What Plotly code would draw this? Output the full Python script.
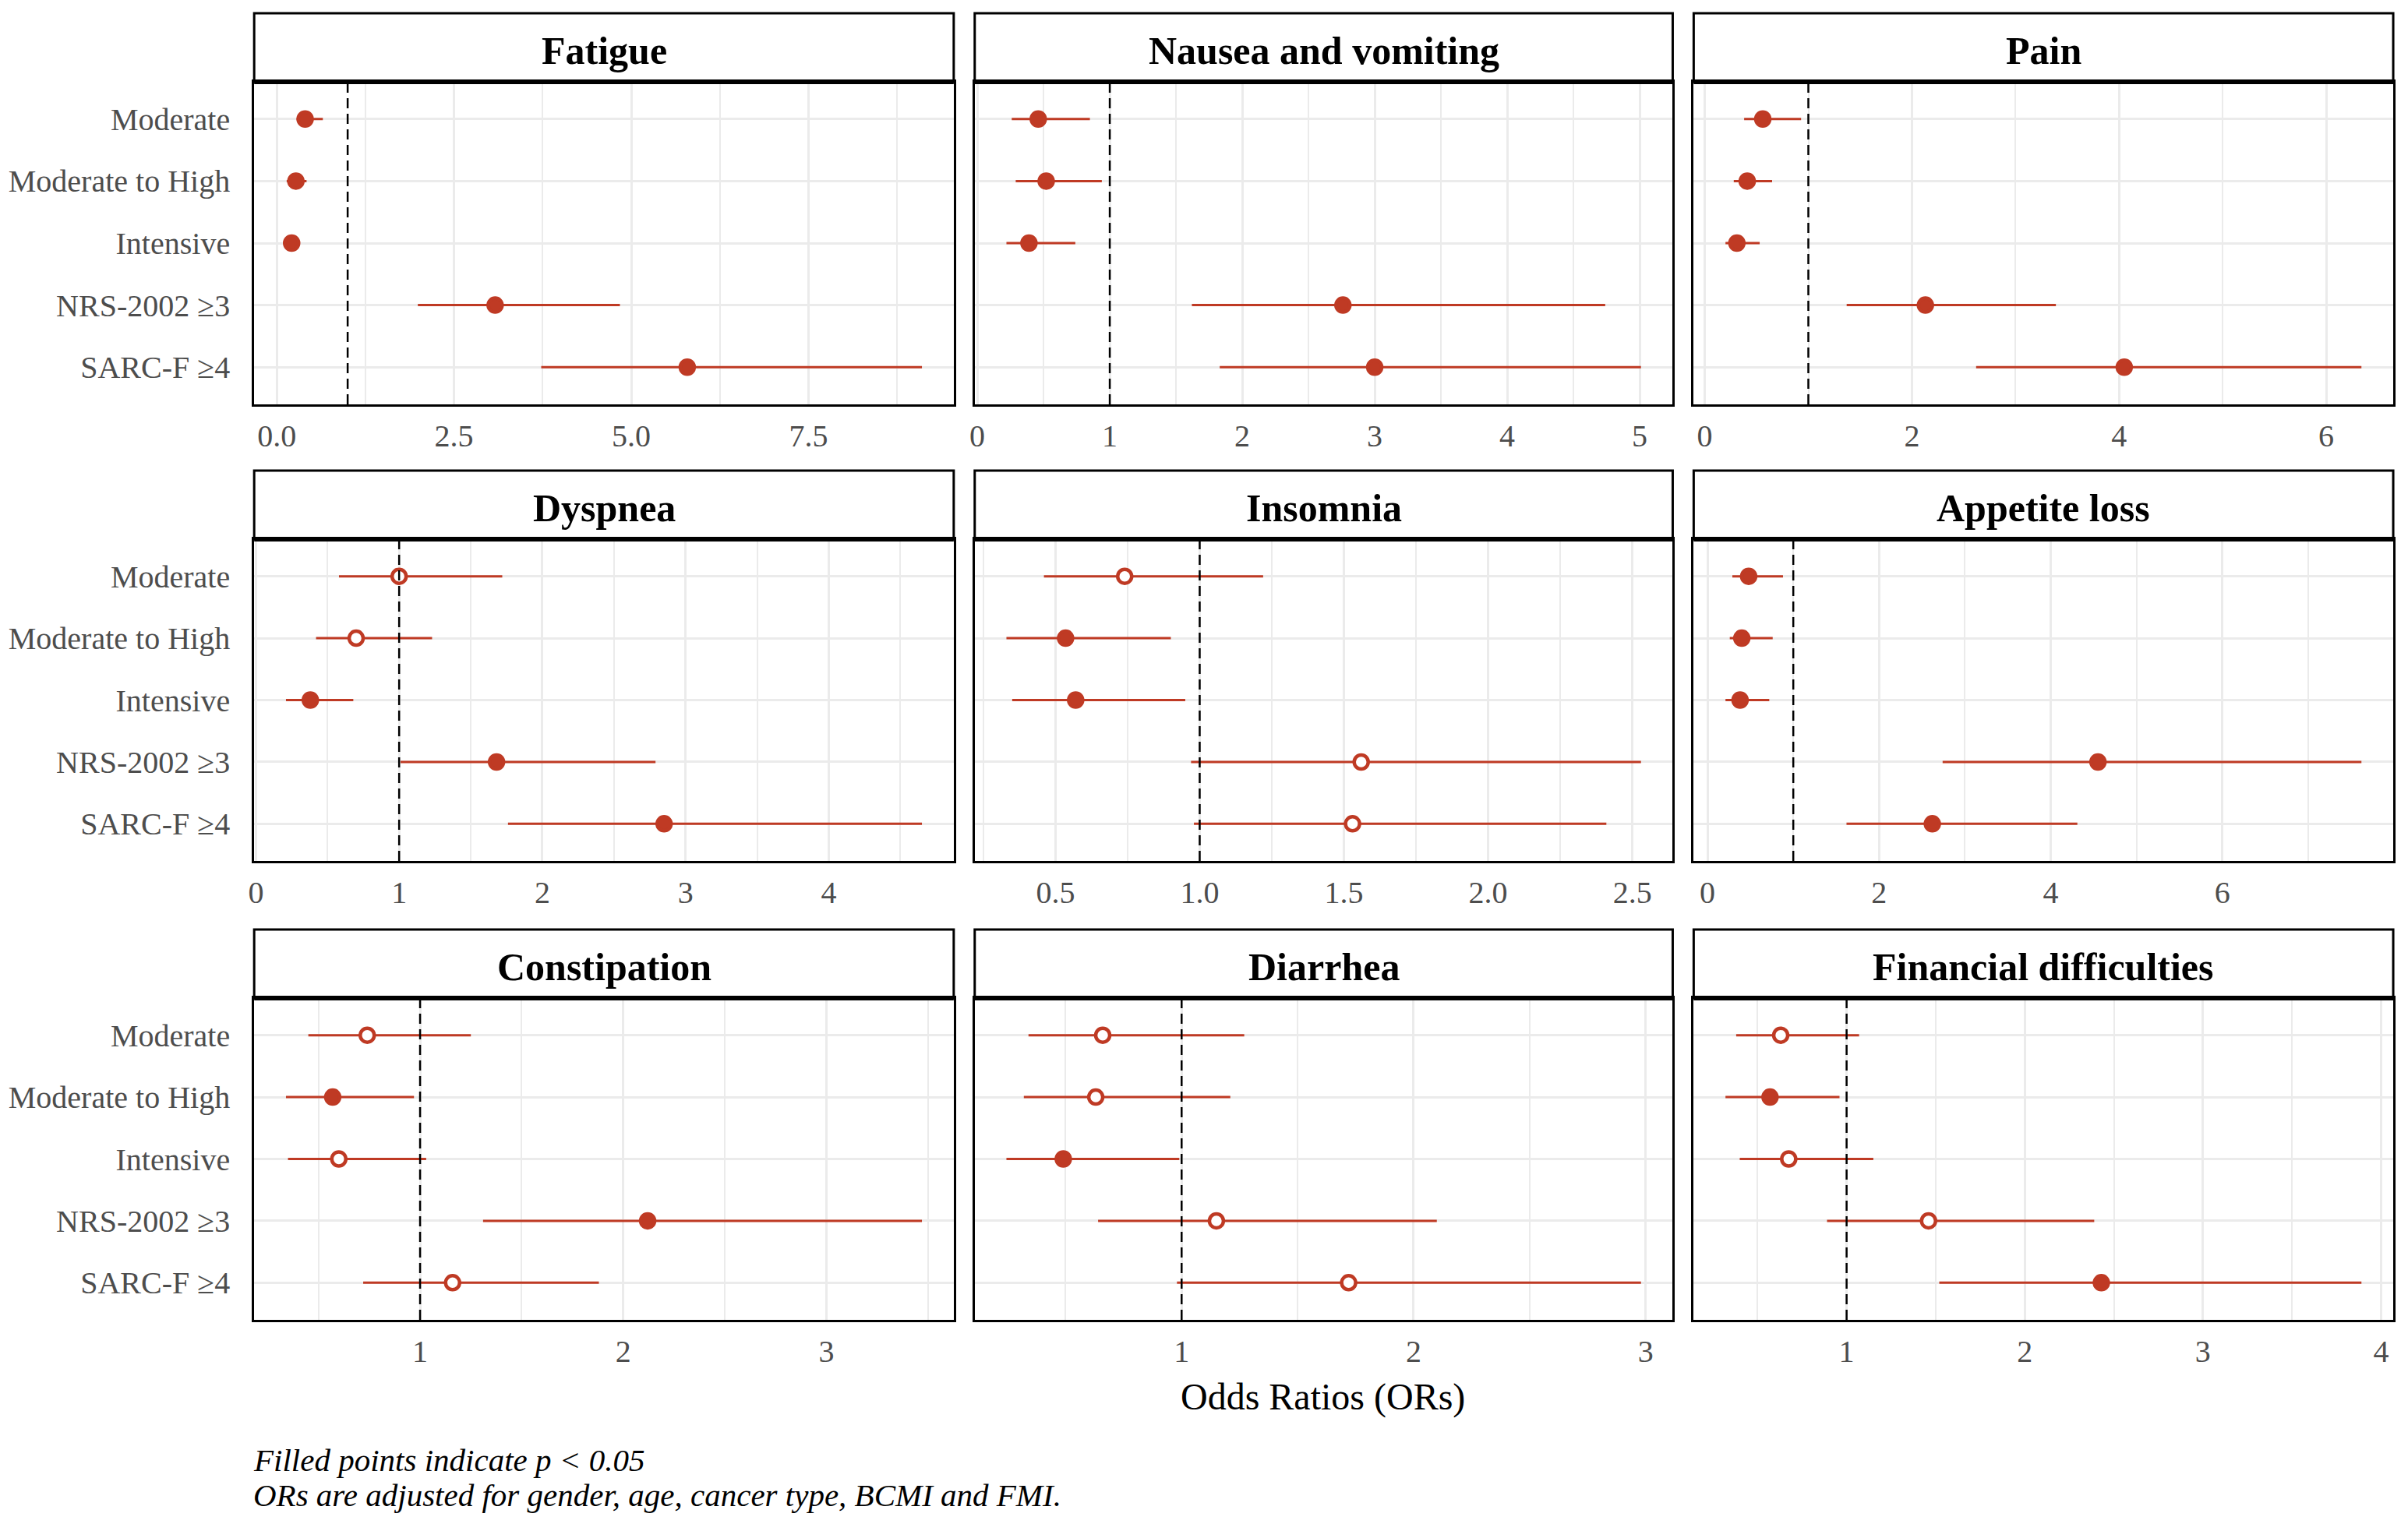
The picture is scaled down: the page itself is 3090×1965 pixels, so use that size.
import plotly.graph_objects as go

# ---------------- data ----------------
categories = ["Moderate", "Moderate to High", "Intensive", "NRS-2002 \u22653", "SARC-F \u22654"]

panel_titles = ["Fatigue", "Nausea and vomiting", "Pain",
                "Dyspnea", "Insomnia", "Appetite loss",
                "Constipation", "Diarrhea", "Financial difficulties"]

fatigue_or = [0.40, 0.27, 0.21, 3.08, 5.79]
fatigue_lo = [0.28, 0.14, 0.13, 1.99, 3.73]
fatigue_hi = [0.65, 0.42, 0.32, 4.84, 9.10]
fatigue_sig = [1, 1, 1, 1, 1]

nausea_or = [0.46, 0.52, 0.39, 2.76, 3.00]
nausea_lo = [0.26, 0.29, 0.22, 1.62, 1.83]
nausea_hi = [0.85, 0.94, 0.74, 4.74, 5.01]
nausea_sig = [1, 1, 1, 1, 1]

pain_or = [0.56, 0.41, 0.31, 2.13, 4.05]
pain_lo = [0.38, 0.28, 0.20, 1.37, 2.62]
pain_hi = [0.93, 0.65, 0.53, 3.39, 6.34]
pain_sig = [1, 1, 1, 1, 1]

dyspnea_or = [1.00, 0.70, 0.38, 1.68, 2.85]
dyspnea_lo = [0.58, 0.42, 0.21, 1.01, 1.76]
dyspnea_hi = [1.72, 1.23, 0.68, 2.79, 4.65]
dyspnea_sig = [0, 0, 1, 1, 1]

insomnia_or = [0.74, 0.535, 0.57, 1.56, 1.53]
insomnia_lo = [0.46, 0.33, 0.35, 0.97, 0.98]
insomnia_hi = [1.22, 0.90, 0.95, 2.53, 2.41]
insomnia_sig = [0, 1, 1, 0, 0]

appetite_or = [0.48, 0.40, 0.38, 4.55, 2.62]
appetite_lo = [0.29, 0.26, 0.21, 2.74, 1.62]
appetite_hi = [0.88, 0.76, 0.72, 7.62, 4.31]
appetite_sig = [1, 1, 1, 1, 1]

constipation_or = [0.74, 0.57, 0.60, 2.12, 1.16]
constipation_lo = [0.45, 0.34, 0.35, 1.31, 0.72]
constipation_hi = [1.25, 0.97, 1.03, 3.47, 1.88]
constipation_sig = [0, 1, 0, 1, 0]

diarrhea_or = [0.66, 0.63, 0.49, 1.15, 1.72]
diarrhea_lo = [0.34, 0.32, 0.245, 0.64, 0.98]
diarrhea_hi = [1.27, 1.21, 0.99, 2.10, 2.98]
diarrhea_sig = [0, 0, 1, 0, 0]

financial_or = [0.63, 0.57, 0.675, 1.46, 2.43]
financial_lo = [0.38, 0.32, 0.40, 0.89, 1.52]
financial_hi = [1.07, 0.96, 1.15, 2.39, 3.89]
financial_sig = [0, 1, 0, 0, 1]

# tick values / labels per panel
fatigue_ticks = [0, 2.5, 5, 7.5]
fatigue_ticklabels = ["0.0", "2.5", "5.0", "7.5"]
fatigue_minor = [1.25, 3.75, 6.25, 8.75]
nausea_ticks = [0, 1, 2, 3, 4, 5]
nausea_ticklabels = ["0", "1", "2", "3", "4", "5"]
nausea_minor = [0.5, 1.5, 2.5, 3.5, 4.5]
pain_ticks = [0, 2, 4, 6]
pain_ticklabels = ["0", "2", "4", "6"]
pain_minor = [1, 3, 5]
dyspnea_ticks = [0, 1, 2, 3, 4]
dyspnea_ticklabels = ["0", "1", "2", "3", "4"]
dyspnea_minor = [0.5, 1.5, 2.5, 3.5, 4.5]
insomnia_ticks = [0.5, 1.0, 1.5, 2.0, 2.5]
insomnia_ticklabels = ["0.5", "1.0", "1.5", "2.0", "2.5"]
insomnia_minor = [0.25, 0.75, 1.25, 1.75, 2.25]
appetite_ticks = [0, 2, 4, 6]
appetite_ticklabels = ["0", "2", "4", "6"]
appetite_minor = [1, 3, 5, 7]
constipation_ticks = [1, 2, 3]
constipation_ticklabels = ["1", "2", "3"]
constipation_minor = [0.5, 1.5, 2.5, 3.5]
diarrhea_ticks = [1, 2, 3]
diarrhea_ticklabels = ["1", "2", "3"]
diarrhea_minor = [0.5, 1.5, 2.5]
financial_ticks = [1, 2, 3, 4]
financial_ticklabels = ["1", "2", "3", "4"]
financial_minor = [0.5, 1.5, 2.5, 3.5]

x_title = "Odds Ratios (ORs)"
note_lines = ["Filled points indicate p < 0.05",
              "ORs are adjusted for gender, age, cancer type, BCMI and FMI."]

# ---------------- assembling ----------------
panels = [
    (fatigue_or, fatigue_lo, fatigue_hi, fatigue_sig, fatigue_ticks, fatigue_ticklabels, fatigue_minor),
    (nausea_or, nausea_lo, nausea_hi, nausea_sig, nausea_ticks, nausea_ticklabels, nausea_minor),
    (pain_or, pain_lo, pain_hi, pain_sig, pain_ticks, pain_ticklabels, pain_minor),
    (dyspnea_or, dyspnea_lo, dyspnea_hi, dyspnea_sig, dyspnea_ticks, dyspnea_ticklabels, dyspnea_minor),
    (insomnia_or, insomnia_lo, insomnia_hi, insomnia_sig, insomnia_ticks, insomnia_ticklabels, insomnia_minor),
    (appetite_or, appetite_lo, appetite_hi, appetite_sig, appetite_ticks, appetite_ticklabels, appetite_minor),
    (constipation_or, constipation_lo, constipation_hi, constipation_sig, constipation_ticks, constipation_ticklabels, constipation_minor),
    (diarrhea_or, diarrhea_lo, diarrhea_hi, diarrhea_sig, diarrhea_ticks, diarrhea_ticklabels, diarrhea_minor),
    (financial_or, financial_lo, financial_hi, financial_sig, financial_ticks, financial_ticklabels, financial_minor),
]

W, H = 3090, 1965
RED = "#BF3A24"
GRID = "#EBEBEB"
TICKCOL = "#4D4D4D"
FONT = "Liberation Serif, Times New Roman, serif"

col_px = [(319, 1219), (1246, 2144), (2171, 3071)]
strip_top = [17, 604, 1193]
strip_bot = [105, 692, 1281]
panel_bot = [519, 1105, 1694]

fig = go.Figure()
shapes = []
annotations = []

for i, (orv, lo, hi, sig, tv, tt, mv) in enumerate(panels):
    r, c = divmod(i, 3)
    n = i + 1
    xa = "x" if n == 1 else f"x{n}"
    ya = "y" if n == 1 else f"y{n}"
    xkey = "xaxis" if n == 1 else f"xaxis{n}"
    ykey = "yaxis" if n == 1 else f"yaxis{n}"

    fills = [RED if s else "white" for s in sig]
    fig.add_trace(go.Scatter(
        x=orv, y=categories, xaxis=xa, yaxis=ya, mode="markers",
        marker=dict(symbol="circle", size=18, color=fills,
                    line=dict(color=RED, width=4.5)),
        error_x=dict(type="data", symmetric=False,
                     array=[h - o for h, o in zip(hi, orv)],
                     arrayminus=[o - l for o, l in zip(orv, lo)],
                     color=RED, thickness=3, width=0),
        showlegend=False, hoverinfo="skip", cliponaxis=False,
    ))

    dmin = min(min(lo), 1.0)
    dmax = max(max(hi), 1.0)
    span = dmax - dmin
    xr = [dmin - 0.05 * span, dmax + 0.05 * span]

    x0, x1 = col_px[c]
    y_top = strip_bot[r]
    y_bot = panel_bot[r]

    fig.layout[xkey] = dict(
        domain=[x0 / W, x1 / W], anchor=ya, range=xr,
        tickmode="array", tickvals=tv, ticktext=tt,
        showgrid=True, gridcolor=GRID, gridwidth=3, zeroline=False,
        minor=dict(tickmode="array", tickvals=mv, showgrid=True,
                   gridcolor=GRID, gridwidth=1.5),
        showline=True, mirror=True, linecolor="black", linewidth=3,
        ticks="", ticklabelstandoff=3,
        tickfont=dict(family=FONT, size=40, color=TICKCOL),
        fixedrange=True,
    )
    fig.layout[ykey] = dict(
        domain=[1 - y_bot / H, 1 - y_top / H], anchor=xa,
        type="category", categoryorder="array", categoryarray=categories,
        range=[4.6, -0.6],
        showgrid=True, gridcolor=GRID, gridwidth=3, zeroline=False,
        showline=True, mirror=True, linecolor="black", linewidth=3,
        ticks="", ticklabelstandoff=20,
        showticklabels=(c == 0),
        tickfont=dict(family=FONT, size=40, color=TICKCOL),
        fixedrange=True,
    )

    # reference line at OR = 1
    shapes.append(dict(type="line", xref=xa, yref=f"{ya} domain",
                       x0=1, x1=1, y0=0, y1=1,
                       line=dict(color="black", width=2.5, dash="13px,7px"),
                       layer="above"))

    # strip box
    shapes.append(dict(type="rect", xref="paper", yref="paper",
                       x0=x0 / W, x1=x1 / W,
                       y0=1 - strip_bot[r] / H, y1=1 - strip_top[r] / H,
                       fillcolor="white", line=dict(color="black", width=3)))
    shapes.append(dict(type="line", xref="paper", yref="paper",
                       x0=x0 / W, x1=x1 / W,
                       y0=1 - strip_bot[r] / H, y1=1 - strip_bot[r] / H,
                       line=dict(color="black", width=6)))
    annotations.append(dict(text=f"<b>{panel_titles[i]}</b>", xref="paper", yref="paper",
                            x=(x0 + x1) / 2 / W,
                            y=1 - ((strip_top[r] + strip_bot[r]) / 2 + 4) / H,
                            xanchor="center", yanchor="middle", showarrow=False,
                            font=dict(family=FONT, size=50, color="black")))

annotations.append(dict(text=x_title, xref="paper", yref="paper",
                        x=1694 / W, y=1 - 1793 / H, xanchor="center", yanchor="middle",
                        showarrow=False, font=dict(family=FONT, size=48, color="black")))
annotations.append(dict(text=f"<i>{note_lines[0]}</i>", xref="paper", yref="paper",
                        x=316 / W, y=1 - 1874 / H, xanchor="left", yanchor="middle",
                        showarrow=False, font=dict(family=FONT, size=41, color="black")))
annotations.append(dict(text=f"<i>{note_lines[1]}</i>", xref="paper", yref="paper",
                        x=316 / W, y=1 - 1919 / H, xanchor="left", yanchor="middle",
                        showarrow=False, font=dict(family=FONT, size=41, color="black")))

fig.update_layout(
    width=W, height=H,
    margin=dict(l=0, r=0, t=0, b=0),
    paper_bgcolor="white", plot_bgcolor="white",
    shapes=shapes, annotations=annotations,
    showlegend=False,
    font=dict(family=FONT, color="black"),
)

fig.write_html("out.html", config={"displayModeBar": False},
               post_script="document.body.style.margin='0';document.body.style.overflow='hidden';")
